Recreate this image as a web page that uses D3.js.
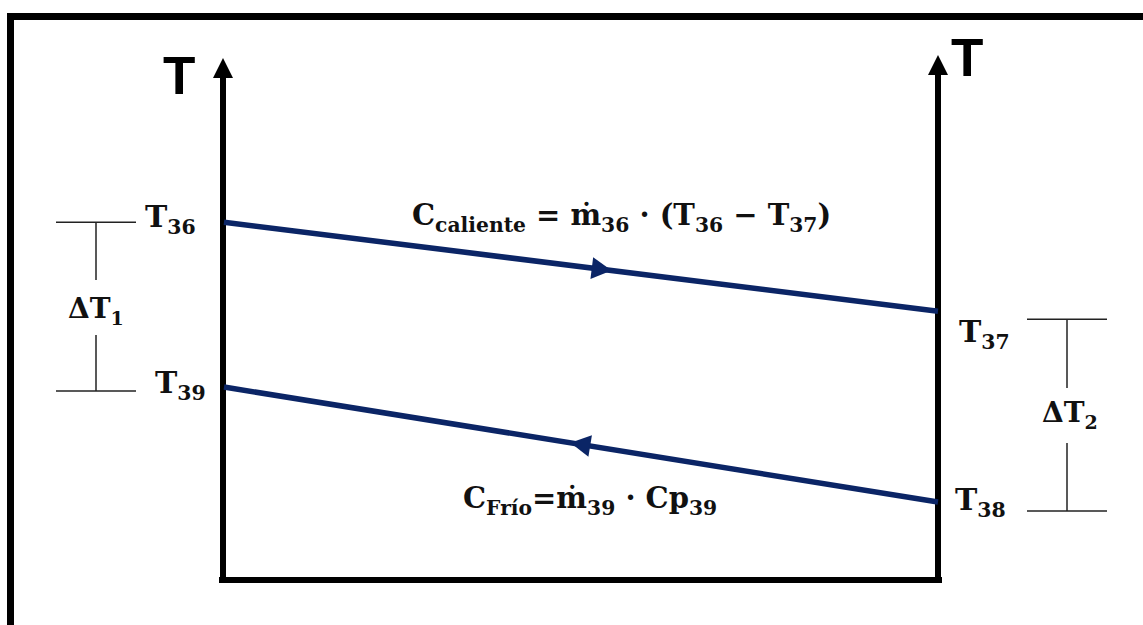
<!DOCTYPE html>
<html><head><meta charset="utf-8">
<script src="https://cdn.jsdelivr.net/npm/d3@7"></script>
<style>html,body{margin:0;background:#fff}svg{display:block}</style>
</head><body>
<script>
// Temperature (relative units) of each stream at the left and right ends of the exchanger
const ends = [0, 1];
const hotTemps = [68.8, 51.7];     // T36 -> T37
const coldTemps = [37.1, 15.0];    // T39 <- T38
const hotLabels = ["36", "37"];
const coldLabels = ["39", "38"];
const deltaLabels = ["1", "2"];
const axisLabel = "T";

const W = 1143, H = 625;
const navy = "#0b2566";
const serif = "'DejaVu Serif', serif";

const svg = d3.select("body").append("svg").attr("width", W).attr("height", H);

const x = d3.scaleLinear().domain([0, 1]).range([224, 938]);
const y = d3.scaleLinear().domain([0, 100]).range([580, 60]);

// outer frame (top and left edges)
svg.append("rect").attr("x", 7).attr("y", 13).attr("width", W - 7).attr("height", 7).attr("fill", "#000");
svg.append("rect").attr("x", 7).attr("y", 13).attr("width", 7).attr("height", H - 13).attr("fill", "#000");

// axes with arrowheads
const axisG = svg.append("g");
ends.forEach((e, i) => {
  const ax = x(e) + (i === 0 ? -1 : 0);
  const tipY = i === 0 ? 58 : 55;
  axisG.append("line").attr("x1", ax).attr("x2", ax).attr("y1", tipY + 16).attr("y2", y(0) + 3)
    .attr("stroke", "#000").attr("stroke-width", 6);
  axisG.append("path")
    .attr("d", `M${ax},${tipY} L${ax + 10},${tipY + 20} L${ax - 10},${tipY + 20} Z`)
    .attr("fill", "#000");
});
axisG.append("line").attr("x1", x(0) - 5).attr("x2", x(1) + 4).attr("y1", y(0)).attr("y2", y(0))
  .attr("stroke", "#000").attr("stroke-width", 6);

// axis letters
svg.append("text").attr("x", 163).attr("y", 94).text(axisLabel)
  .attr("font-family", "'Liberation Sans', Arial, sans-serif").attr("font-weight", "bold").attr("font-size", 53);
svg.append("text").attr("x", 951).attr("y", 76).text(axisLabel)
  .attr("font-family", "'Liberation Sans', Arial, sans-serif").attr("font-weight", "bold").attr("font-size", 53);

// streams
const line = d3.line().x(d => x(d[0])).y(d => y(d[1]));
const streams = [
  { temps: hotTemps, dir: 1, at: 0.529 },
  { temps: coldTemps, dir: -1, at: 0.499 }
];
streams.forEach(s => {
  const pts = ends.map((e, i) => [e, s.temps[i]]);
  svg.append("path").attr("d", line(pts)).attr("fill", "none")
    .attr("stroke", navy).attr("stroke-width", 5.5);
  // flow-direction arrowhead
  const cx = x(s.at), cy = y(s.temps[0] + (s.temps[1] - s.temps[0]) * s.at);
  const ang = Math.atan2(y(s.temps[1]) - y(s.temps[0]), x(1) - x(0)) * 180 / Math.PI + (s.dir < 0 ? 180 : 0);
  svg.append("path").attr("d", "M10,0 L-10,-11 L-10,11 Z").attr("fill", navy)
    .attr("transform", `translate(${cx},${cy}) rotate(${ang})`);
});

// text helper: list of [text, role] where role is "n" (normal) or "s" (subscript)
function richText(px, py, parts, size, subRatio = 0.68) {
  const t = svg.append("text").attr("x", px).attr("y", py)
    .attr("font-family", serif).attr("font-weight", "bold").attr("font-size", size).attr("fill", "#111");
  let sub = false;
  parts.forEach(([str, role]) => {
    const sp = t.append("tspan").text(str);
    if (role === "s" && !sub) { sp.attr("dy", size * 0.24).attr("font-size", size * subRatio); sub = true; }
    else if (role === "s") { sp.attr("font-size", size * subRatio); }
    else if (sub) { sp.attr("dy", -size * 0.24); sub = false; }
  });
  return t;
}

// temperature labels at each stream end
richText(145, y(hotTemps[0]) + 5, [["T", "n"], [hotLabels[0], "s"]], 30);
richText(959, y(hotTemps[1]) + 31, [["T", "n"], [hotLabels[1], "s"]], 30);
richText(155, y(coldTemps[0]) + 6, [["T", "n"], [coldLabels[0], "s"]], 30);
richText(955, y(coldTemps[1]) + 8, [["T", "n"], [coldLabels[1], "s"]], 30);

// temperature-difference brackets
function bracket(cx, y1, y2, w, label, gapTop, gapBot, tx, ty) {
  const g = svg.append("g").attr("stroke", "#222").attr("stroke-width", 1.5);
  g.append("line").attr("x1", cx - w / 2).attr("x2", cx + w / 2).attr("y1", y1).attr("y2", y1);
  g.append("line").attr("x1", cx - w / 2).attr("x2", cx + w / 2).attr("y1", y2).attr("y2", y2);
  g.append("line").attr("x1", cx).attr("x2", cx).attr("y1", y1).attr("y2", gapTop);
  g.append("line").attr("x1", cx).attr("x2", cx).attr("y1", gapBot).attr("y2", y2);
  richText(tx, ty, [["ΔT", "n"], [label, "s"]], 28);
}
bracket(96, y(hotTemps[0]), y(coldTemps[0]) + 4, 80, deltaLabels[0], 280, 335, 68, 318);
bracket(1067, y(hotTemps[1]) + 8, y(coldTemps[1]) + 9, 80, deltaLabels[1], 388, 443, 1042, 422);

// heat-capacity equations
richText(412, 225, [["C", "n"], ["caliente", "s"], [" =  ṁ", "n"], ["36", "s"], [" · (T", "n"], ["36", "s"], [" − T", "n"], ["37", "s"], [")", "n"]], 29, 0.7);
richText(463, 508, [["C", "n"], ["Frío", "s"], ["=ṁ", "n"], ["39", "s"], [" · Cp", "n"], ["39", "s"]], 29, 0.7);
</script>
</body></html>
